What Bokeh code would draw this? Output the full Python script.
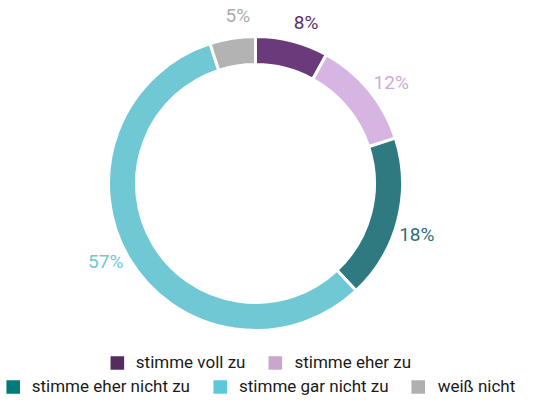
import math
from bokeh.plotting import figure
from bokeh.models import ColumnDataSource, Legend, LegendItem
from bokeh.core.properties import value
from bokeh.embed import file_html
from bokeh.resources import INLINE

categories = ["stimme voll zu", "stimme eher zu", "stimme eher nicht zu", "stimme gar nicht zu", "weiß nicht"]
values = [8, 12, 18, 57, 5]
labels = ["8%", "12%", "18%", "57%", "5%"]
slice_colors = ["#6a3a7a", "#d6b5e3", "#2e7a80", "#6fc8d4", "#b3b3b3"]
label_colors = ["#5b2f6b", "#cfa8dc", "#2e6f75", "#6fc8d4", "#ababab"]
legend_colors = ["#542c60", "#c9a6cc", "#007a7a", "#5ec8db", "#b0b0b0"]

FONT = "Roboto"

total = sum(values)
starts, ends, mids = [], [], []
acc = 0
for v in values:
    s = math.pi / 2 - 2 * math.pi * acc / total
    acc += v
    e = math.pi / 2 - 2 * math.pi * acc / total
    starts.append(s)
    ends.append(e)
    mids.append((s + e) / 2)

R_OUT, R_IN, R_LAB = 147, 119, 169
LAB_ROT = math.radians(-3)
src = ColumnDataSource(dict(
    start=starts, end=ends, color=slice_colors,
    lx=[R_LAB * math.cos(m + LAB_ROT) for m in mids],
    ly=[R_LAB * math.sin(m + LAB_ROT) for m in mids],
    label=labels, lcolor=label_colors,
))

W, H = 519, 396
CX, CY = 255, 183
p = figure(width=W, height=H, output_backend="svg", toolbar_location=None,
           x_range=(-CX, W - CX), y_range=(-(H - CY), CY), min_border=0)
p.axis.visible = False
p.grid.visible = False
p.outline_line_color = None
p.background_fill_color = "white"

p.annular_wedge(x=0, y=0, inner_radius=R_IN, outer_radius=R_OUT,
                start_angle="start", end_angle="end", direction="clock",
                fill_color="color", line_color="white", line_width=3, source=src)

p.text(x="lx", y="ly", text="label", text_color="lcolor", source=src,
       text_font=value(FONT), text_font_size="19px",
       text_align="center", text_baseline="middle")

nan = float("nan")
dummies = []
for c in legend_colors:
    r = p.quad(left=[nan], right=[nan], top=[nan], bottom=[nan],
               fill_color=c, line_color=None)
    dummies.append(r)

def make_legend(idx, margin):
    return Legend(items=[LegendItem(label=categories[i], renderers=[dummies[i]]) for i in idx],
                  location="bottom_center", orientation="horizontal",
                  glyph_width=17, glyph_height=17, label_standoff=11, spacing=21,
                  padding=0, margin=margin, border_line_color=None,
                  background_fill_alpha=0, label_text_font=FONT,
                  label_text_font_size="17px", label_text_color="#1a1a1a",
                  label_height=17)

p.add_layout(make_legend([0, 1], 24), "center")
p.add_layout(make_legend([2, 3, 4], 0), "center")

open("out.html", "w").write(file_html(p, INLINE))
